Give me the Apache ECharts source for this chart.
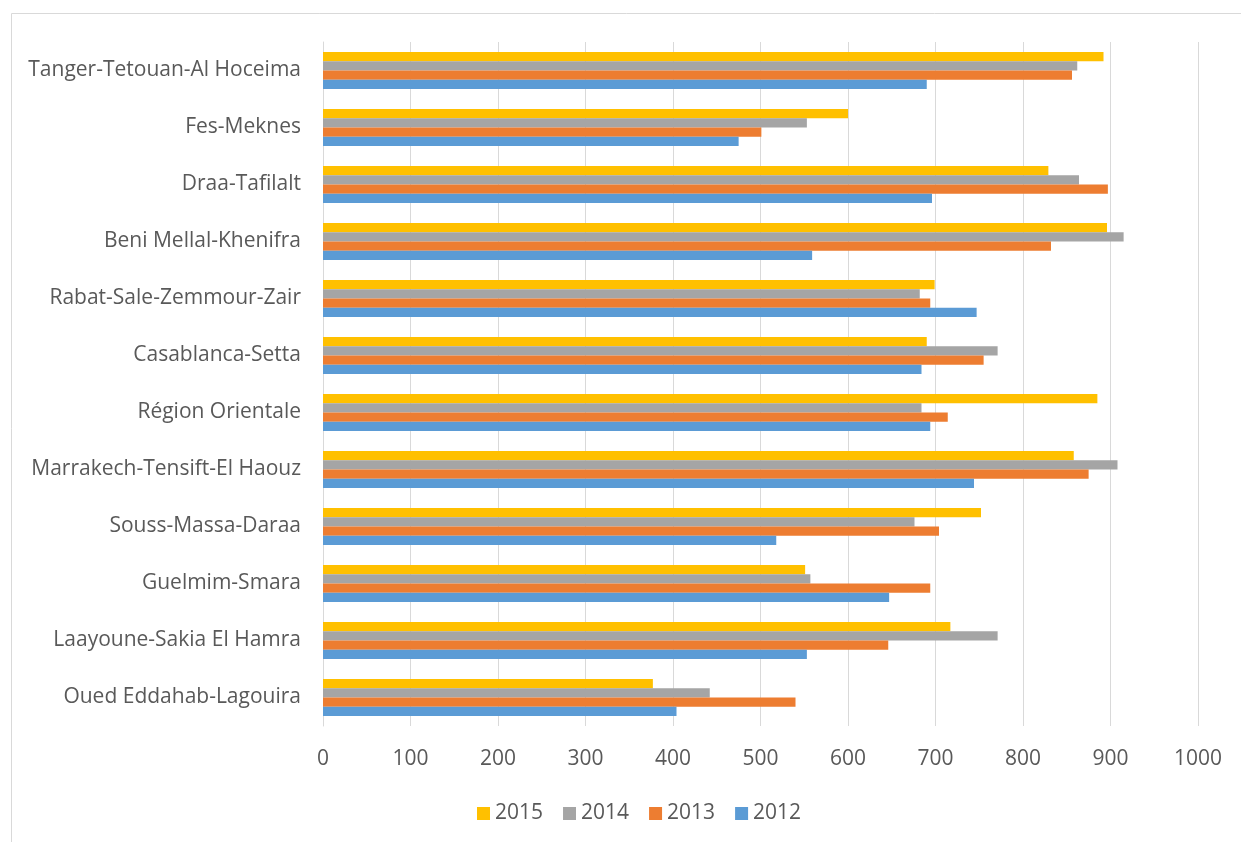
<!DOCTYPE html>
<html>
<head>
<meta charset="utf-8">
<script src="https://cdn.jsdelivr.net/npm/echarts@6/dist/echarts.min.js"></script>
<style>html,body{margin:0;padding:0;background:#fff;}#c{width:1241px;height:842px;}</style>
</head>
<body>
<div id="c"></div>
<script>
const categories = ['Tanger-Tetouan-Al Hoceima','Fes-Meknes','Draa-Tafilalt','Beni Mellal-Khenifra','Rabat-Sale-Zemmour-Zair','Casablanca-Setta','Région Orientale','Marrakech-Tensift-El Haouz','Souss-Massa-Daraa','Guelmim-Smara','Laayoune-Sakia El Hamra','Oued Eddahab-Lagouira'];
const v2015 = [892, 600, 829, 896, 699, 690, 885, 858, 752, 551, 717, 377];
const v2014 = [862, 553, 864, 915, 682, 771, 684, 908, 676, 557, 771, 442];
const v2013 = [856, 501, 897, 832, 694, 755, 714, 875, 704, 694, 646, 540];
const v2012 = [690, 475, 696, 559, 747, 684, 694, 744, 518, 647, 553, 404];
const xTicks = [0,100,200,300,400,500,600,700,800,900,1000];

const font = 'Open Sans';
const chart = echarts.init(document.getElementById('c'), null, {renderer:'canvas'});
const mk = (name, data, color) => ({
  name, type:'bar', data, barGap:'0%', barCategoryGap:'35%',
  itemStyle:{color}, silent:true
});
chart.setOption({
  animation:false,
  textStyle:{fontFamily:font},
  graphic:[{type:'rect', shape:{x:11.5,y:13.5,width:1400,height:1000}, style:{fill:'none',stroke:'#D9D9D9',lineWidth:1}}],
  grid:{left:323, right:43, top:42, bottom:116, containLabel:false},
  legend:{data:['2015','2014','2013','2012'], left:472, top:798, itemWidth:13, itemHeight:13, itemGap:20,
    icon:'rect', textStyle:{fontSize:21, color:'#595959', fontFamily:font}},
  xAxis:{type:'value', min:xTicks[0], max:xTicks[xTicks.length-1], interval:100,
    axisLine:{show:false}, axisTick:{show:false},
    splitLine:{lineStyle:{color:'#D9D9D9', width:1}},
    axisLabel:{fontSize:21, color:'#595959', margin:23, fontFamily:font, formatter:v=>String(v)}},
  yAxis:{type:'category', data:categories, inverse:true,
    axisLine:{show:true, lineStyle:{color:'#D9D9D9'}}, axisTick:{show:false},
    axisLabel:{fontSize:21, color:'#595959', margin:22, fontFamily:font, padding:[3,0,0,0]}},
  series:[mk('2015',v2015,'#FFC000'), mk('2014',v2014,'#A5A5A5'), mk('2013',v2013,'#ED7D31'), mk('2012',v2012,'#5B9BD5')]
});
</script>
</body>
</html>
